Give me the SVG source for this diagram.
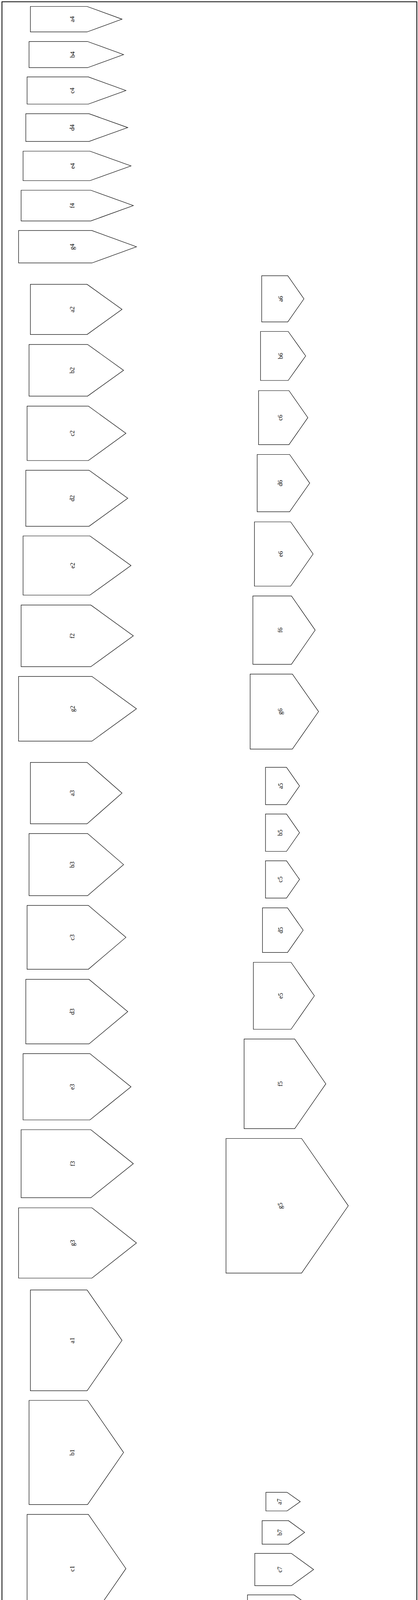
<svg xmlns="http://www.w3.org/2000/svg" width="1069" height="5513" viewBox="0 0 1069 5513">
<style>
.s{fill:#fff;stroke:#000;stroke-width:1.2}
.t{font-family:"Liberation Serif","Times New Roman",serif;font-size:16px;fill:#000;text-anchor:middle;dominant-baseline:central}
.frame{fill:none;stroke:#000;stroke-width:2}
</style>
<rect width="1069" height="5513" fill="#fff"/>
<rect class="frame" x="5" y="4.5" width="1061" height="5505"/>
<g id="connectors"/>
<g id="n4">
<g id="a4"><polygon class="s" points="77.7,16.5 222.7,16.5 312,49.1 222.7,81.7 77.7,81.7"/><text class="t" x="185" y="49.1" transform="rotate(-90 185 49.1)">a4</text></g>
<g id="b4"><polygon class="s" points="74.3,106.3 224,106.3 316,139.75 224,173.2 74.3,173.2"/><text class="t" x="185" y="139.75" transform="rotate(-90 185 139.75)">b4</text></g>
<g id="c4"><polygon class="s" points="69.3,196.9 226,196.9 322,231.7 226,266.5 69.3,266.5"/><text class="t" x="185" y="231.7" transform="rotate(-90 185 231.7)">c4</text></g>
<g id="d4"><polygon class="s" points="66,291.1 227.7,291.1 326.7,326.6 227.7,362.1 66,362.1"/><text class="t" x="185" y="326.6" transform="rotate(-90 185 326.6)">d4</text></g>
<g id="e4"><polygon class="s" points="59,387 230,387 335,424.75 230,462.5 59,462.5"/><text class="t" x="185" y="424.75" transform="rotate(-90 185 424.75)">e4</text></g>
<g id="f4"><polygon class="s" points="54,487 232.3,487 341,526.3 232.3,565.6 54,565.6"/><text class="t" x="185" y="526.3" transform="rotate(-90 185 526.3)">f4</text></g>
<g id="g4"><polygon class="s" points="47.5,590.2 235,590.2 349,631.7 235,673.2 47.5,673.2"/><text class="t" x="185" y="631.7" transform="rotate(-90 185 631.7)">g4</text></g>
</g>
<g id="n2">
<g id="a2"><polygon class="s" points="77.7,727.9 222.7,727.9 312,792.1 222.7,856.3 77.7,856.3"/><text class="t" x="185" y="792.1" transform="rotate(-90 185 792.1)">a2</text></g>
<g id="b2"><polygon class="s" points="74.3,881.8 224,881.8 316,947.95 224,1014.1 74.3,1014.1"/><text class="t" x="185" y="947.95" transform="rotate(-90 185 947.95)">b2</text></g>
<g id="c2"><polygon class="s" points="69.3,1039.6 226,1039.6 322,1109.3 226,1179 69.3,1179"/><text class="t" x="185" y="1109.3" transform="rotate(-90 185 1109.3)">c2</text></g>
<g id="d2"><polygon class="s" points="66,1203.8 227.7,1203.8 326.7,1275.55 227.7,1347.3 66,1347.3"/><text class="t" x="185" y="1275.55" transform="rotate(-90 185 1275.55)">d2</text></g>
<g id="e2"><polygon class="s" points="59,1372 230,1372 335,1447.75 230,1523.5 59,1523.5"/><text class="t" x="185" y="1447.75" transform="rotate(-90 185 1447.75)">e2</text></g>
<g id="f2"><polygon class="s" points="54,1548.9 232.3,1548.9 341,1627.8 232.3,1706.7 54,1706.7"/><text class="t" x="185" y="1627.8" transform="rotate(-90 185 1627.8)">f2</text></g>
<g id="g2"><polygon class="s" points="47.5,1731.6 235,1731.6 349,1814.5 235,1897.4 47.5,1897.4"/><text class="t" x="185" y="1814.5" transform="rotate(-90 185 1814.5)">g2</text></g>
</g>
<g id="n6">
<g id="a6"><polygon class="s" points="669.3,705.9 736,705.9 777.3,765 736,824.2 669.3,824.2"/><text class="t" x="717" y="765" transform="rotate(-90 717 765)">a6</text></g>
<g id="b6"><polygon class="s" points="666.3,848.5 737,848.5 781.7,911.25 737,974 666.3,974"/><text class="t" x="717" y="911.25" transform="rotate(-90 717 911.25)">b6</text></g>
<g id="c6"><polygon class="s" points="661.3,1000 739,1000 787.3,1069.2 739,1138.4 661.3,1138.4"/><text class="t" x="717" y="1069.2" transform="rotate(-90 717 1069.2)">c6</text></g>
<g id="d6"><polygon class="s" points="657.7,1163.5 740.7,1163.5 792,1236.8 740.7,1310.1 657.7,1310.1"/><text class="t" x="717" y="1236.8" transform="rotate(-90 717 1236.8)">d6</text></g>
<g id="e6"><polygon class="s" points="650.7,1336 743.3,1336 800.7,1418.25 743.3,1500.5 650.7,1500.5"/><text class="t" x="717" y="1418.25" transform="rotate(-90 717 1418.25)">e6</text></g>
<g id="f6"><polygon class="s" points="646.7,1525.6 745.3,1525.6 806,1613.1 745.3,1700.6 646.7,1700.6"/><text class="t" x="717" y="1613.1" transform="rotate(-90 717 1613.1)">f6</text></g>
<g id="g6"><polygon class="s" points="639.7,1725.6 747.7,1725.6 814.7,1821.6 747.7,1917.6 639.7,1917.6"/><text class="t" x="717" y="1821.6" transform="rotate(-90 717 1821.6)">g6</text></g>
</g>
<g id="n3">
<g id="a3"><polygon class="s" points="77.7,1951.8 222.7,1951.8 312,2030.35 222.7,2108.9 77.7,2108.9"/><text class="t" x="185" y="2030.35" transform="rotate(-90 185 2030.35)">a3</text></g>
<g id="b3"><polygon class="s" points="74.3,2133.9 224,2133.9 316,2213.4 224,2292.9 74.3,2292.9"/><text class="t" x="185" y="2213.4" transform="rotate(-90 185 2213.4)">b3</text></g>
<g id="c3"><polygon class="s" points="69.3,2317.9 226,2317.9 322,2399.6 226,2481.3 69.3,2481.3"/><text class="t" x="185" y="2399.6" transform="rotate(-90 185 2399.6)">c3</text></g>
<g id="d3"><polygon class="s" points="66,2507.2 227.7,2507.2 326.7,2589.8 227.7,2672.4 66,2672.4"/><text class="t" x="185" y="2589.8" transform="rotate(-90 185 2589.8)">d3</text></g>
<g id="e3"><polygon class="s" points="59,2697.4 230,2697.4 335,2782.2 230,2867 59,2867"/><text class="t" x="185" y="2782.2" transform="rotate(-90 185 2782.2)">e3</text></g>
<g id="f3"><polygon class="s" points="54,2892 232.3,2892 341,2979 232.3,3066.1 54,3066.1"/><text class="t" x="185" y="2979" transform="rotate(-90 185 2979)">f3</text></g>
<g id="g3"><polygon class="s" points="47.5,3092 235,3092 349,3182 235,3272 47.5,3272"/><text class="t" x="185" y="3182" transform="rotate(-90 185 3182)">g3</text></g>
</g>
<g id="n5">
<g id="a5"><polygon class="s" points="679,1964.3 732.7,1964.3 766,2012 732.7,2059.8 679,2059.8"/><text class="t" x="717" y="2012" transform="rotate(-90 717 2012)">a5</text></g>
<g id="b5"><polygon class="s" points="679,2083.9 732.7,2083.9 766,2131.7 732.7,2179.5 679,2179.5"/><text class="t" x="717" y="2131.7" transform="rotate(-90 717 2131.7)">b5</text></g>
<g id="c5"><polygon class="s" points="679,2203.6 732.7,2203.6 766,2251.35 732.7,2299.1 679,2299.1"/><text class="t" x="717" y="2251.35" transform="rotate(-90 717 2251.35)">c5</text></g>
<g id="d5"><polygon class="s" points="671.3,2324.1 735.3,2324.1 775.3,2381.25 735.3,2438.4 671.3,2438.4"/><text class="t" x="717" y="2381.25" transform="rotate(-90 717 2381.25)">d5</text></g>
<g id="e5"><polygon class="s" points="648,2463.5 744.3,2463.5 804,2549.25 744.3,2635 648,2635"/><text class="t" x="717" y="2549.25" transform="rotate(-90 717 2549.25)">e5</text></g>
<g id="f5"><polygon class="s" points="624.3,2659.9 753.7,2659.9 833.3,2774.65 753.7,2889.4 624.3,2889.4"/><text class="t" x="717" y="2774.65" transform="rotate(-90 717 2774.65)">f5</text></g>
<g id="g5"><polygon class="s" points="578,2914.5 771.3,2914.5 890.7,3086.85 771.3,3259.2 578,3259.2"/><text class="t" x="717" y="3086.85" transform="rotate(-90 717 3086.85)">g5</text></g>
</g>
<g id="n1">
<g id="a1"><polygon class="s" points="77.7,3302.3 222.7,3302.3 312,3431.35 222.7,3560.4 77.7,3560.4"/><text class="t" x="185" y="3431.35" transform="rotate(-90 185 3431.35)">a1</text></g>
<g id="b1"><polygon class="s" points="74.3,3585 224,3585 316,3718.3 224,3851.6 74.3,3851.6"/><text class="t" x="185" y="3718.3" transform="rotate(-90 185 3718.3)">b1</text></g>
<g id="c1"><polygon class="s" points="69.3,3876.8 226,3876.8 322,4015.7 226,4154.6 69.3,4154.6"/><text class="t" x="185" y="4015.7" transform="rotate(-90 185 4015.7)">c1</text></g>
<g id="d1"><polygon class="s" points="66,4180.6 227.7,4180.6 326.7,4323.9 227.7,4467.2 66,4467.2"/><text class="t" x="185" y="4323.9" transform="rotate(-90 185 4323.9)">d1</text></g>
<g id="e1"><polygon class="s" points="59,4492.4 230,4492.4 335,4644.8 230,4797.2 59,4797.2"/><text class="t" x="185" y="4644.8" transform="rotate(-90 185 4644.8)">e1</text></g>
<g id="f1"><polygon class="s" points="54,4822.5 232.3,4822.5 341,4980.85 232.3,5139.2 54,5139.2"/><text class="t" x="185" y="4980.85" transform="rotate(-90 185 4980.85)">f1</text></g>
<g id="g1"><polygon class="s" points="47.5,5164.4 235,5164.4 349,5330.2 235,5496 47.5,5496"/><text class="t" x="185" y="5330.2" transform="rotate(-90 185 5330.2)">g1</text></g>
</g>
<g id="n7">
<g id="a7"><polygon class="s" points="680,3820.3 734.1,3820.3 767.9,3844.15 734.1,3868 680,3868"/><text class="t" x="715" y="3844.15" transform="rotate(-90 715 3844.15)">a7</text></g>
<g id="b7"><polygon class="s" points="670.4,3892.9 737.9,3892.9 779.1,3923 737.9,3953.1 670.4,3953.1"/><text class="t" x="715" y="3923" transform="rotate(-90 715 3923)">b7</text></g>
<g id="c7"><polygon class="s" points="651.6,3976.6 745,3976.6 802,4018 745,4059.4 651.6,4059.4"/><text class="t" x="715" y="4018" transform="rotate(-90 715 4018)">c7</text></g>
<g id="d7"><polygon class="s" points="632.9,4082.9 752,4082.9 825.4,4135.7 752,4188.5 632.9,4188.5"/><text class="t" x="715" y="4135.7" transform="rotate(-90 715 4135.7)">d7</text></g>
<g id="e7"><polygon class="s" points="585.8,4212.7 770,4212.7 883.7,4294.1 770,4375.5 585.8,4375.5"/><text class="t" x="715" y="4294.1" transform="rotate(-90 715 4294.1)">e7</text></g>
<g id="f7"><polygon class="s" points="539.1,4399.7 788.3,4399.7 941.6,4510.1 788.3,4620.5 539.1,4620.5"/><text class="t" x="715" y="4510.1" transform="rotate(-90 715 4510.1)">f7</text></g>
<g id="g7"><polygon class="s" points="445.5,4645.4 823.8,4645.4 1057,4814.3 823.8,4983.2 445.5,4983.2"/><text class="t" x="715" y="4814.3" transform="rotate(-90 715 4814.3)">g7</text></g>
</g>
</svg>
